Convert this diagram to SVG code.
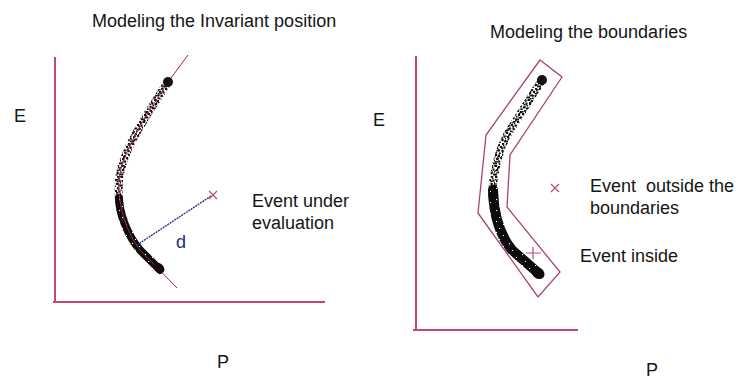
<svg xmlns="http://www.w3.org/2000/svg" width="740" height="380" viewBox="0 0 740 380">
<defs>
<style>
text{font-family:"Liberation Sans",Arial,sans-serif;fill:#151515;font-size:18px;white-space:pre}
.ax{stroke:#c8466a;stroke-width:2;fill:none}
.rl{stroke:#a02840;stroke-width:1;fill:none}
.mk{stroke:#c04a78;stroke-width:1.2;fill:none}
.sp{fill:none;stroke:url(#spk);stroke-linecap:round}
.sp2{fill:none;stroke:url(#spk2);stroke-linecap:round}
.dn{fill:none;stroke:url(#dns);stroke-linecap:round}
</style>
<pattern id="spk" width="11" height="11" patternUnits="userSpaceOnUse">
<rect x="0" y="0" width="2.2" height="2" fill="#111"/>
<rect x="3" y="1" width="2" height="2.2" fill="#111"/>
<rect x="7" y="0" width="2.2" height="1.8" fill="#111"/>
<rect x="5" y="3" width="2.2" height="2" fill="#111"/>
<rect x="1" y="4" width="2.2" height="2.2" fill="#111"/>
<rect x="8.5" y="3.5" width="2" height="2.2" fill="#111"/>
<rect x="3" y="6.5" width="2.2" height="2" fill="#111"/>
<rect x="6.5" y="7" width="2.2" height="2.2" fill="#111"/>
<rect x="0" y="8.5" width="2" height="2" fill="#111"/>
<rect x="9" y="8.5" width="2" height="1.8" fill="#111"/>
<rect x="4" y="9.5" width="1.8" height="1.5" fill="#111"/>
<rect x="2" y="2.5" width="1.4" height="1.4" fill="#111"/>
<rect x="6.5" y="5" width="1.6" height="1.4" fill="#111"/>
<rect x="10" y="6" width="1" height="1.6" fill="#111"/>
<rect x="8" y="1.8" width="1.4" height="1.4" fill="#111"/>
<rect x="1.5" y="7" width="1.4" height="1.4" fill="#111"/>
</pattern>
<pattern id="spk2" width="7" height="9" patternUnits="userSpaceOnUse" patternTransform="translate(3 2)">
<rect x="1" y="1" width="1.6" height="1.6" fill="#111"/>
<rect x="4.5" y="3" width="1.4" height="1.6" fill="#111"/>
<rect x="2" y="6" width="1.6" height="1.4" fill="#111"/>
<rect x="5.5" y="7.5" width="1.3" height="1.3" fill="#111"/>
</pattern>
<pattern id="dns" width="13" height="11" patternUnits="userSpaceOnUse">
<rect width="13" height="11" fill="#0c0c0c"/>
<rect x="2" y="1" width="1.1" height="1.1" fill="#fff"/>
<rect x="9" y="4" width="1" height="1" fill="#fff"/>
<rect x="5" y="8" width="1.1" height="1" fill="#fff"/>
</pattern>
</defs>
<rect width="740" height="380" fill="#fff"/>

<g id="left-panel">
<text x="92" y="27" font-size="17.8">Modeling the Invariant position</text>
<line class="ax" x1="55" y1="57" x2="55" y2="302"/>
<line class="ax" x1="53" y1="302" x2="325" y2="302"/>
<text x="14" y="122">E</text>
<text x="217" y="368">P</text>
<g id="invariant-curve">
<path class="sp" stroke-width="8" d="M168,82 C150,110 122,150 119,180 C118,195 119,205 121,212"/>
<path class="sp2" stroke-width="7" d="M168,82 C150,110 122,150 119,180 C118,195 119,205 121,212"/>
<path class="dn" stroke-width="8" d="M119,198 C119,212 127,235 140,250 L160,270"/>
<path class="rl" d="M188,55 L168,82 C150,110 122,150 119,180 C117,205 128,235 140,250 L177,288"/>
<circle cx="168" cy="82" r="5" fill="#111"/>
<ellipse cx="159" cy="268" rx="6" ry="4.5" transform="rotate(40 159 268)" fill="#1a0a0e"/>
</g>
<g id="event-under-evaluation">
<line x1="137" y1="245" x2="211" y2="196" stroke="#1c2c80" stroke-width="1.3" stroke-dasharray="2 0.8"/>
<path class="mk" d="M209,191 L217,199 M217,191 L209,199"/>
<text x="176" y="248" style="fill:#1c2c80">d</text>
<text x="252" y="207">Event under</text>
<text x="252" y="229">evaluation</text>
</g>
</g>

<g id="right-panel">
<text x="490" y="38" font-size="17.8">Modeling the boundaries</text>
<line class="ax" x1="416" y1="56" x2="416" y2="330"/>
<line class="ax" x1="413" y1="330" x2="578" y2="330"/>
<text x="373" y="126">E</text>
<text x="646" y="376">P</text>
<polygon id="boundary" points="540,60 562,77 510,155 507,207 560,272 538,297 478,213 486,135" fill="none" stroke="#a8407a" stroke-width="1.3"/>
<g id="boundary-curve">
<path class="sp" stroke-width="8" d="M542,80 L507,135 Q494,160 492,195"/>
<path class="sp2" stroke-width="7" d="M542,80 L507,135 Q494,160 492,195"/>
<path class="dn" stroke-width="10" d="M493,190 Q494,228 512,250 L536,271"/>
<circle cx="542" cy="80" r="5" fill="#111"/>
<ellipse cx="538" cy="273" rx="7" ry="5.5" transform="rotate(35 538 273)" fill="#0c0c0c"/>
</g>
<g id="event-outside">
<path class="mk" d="M551,184 L559,192 M559,184 L551,192"/>
<text x="590" y="192" xml:space="preserve">Event  outside the</text>
<text x="590" y="214">boundaries</text>
</g>
<g id="event-inside">
<path class="mk" d="M526,253 L541,253 M533,247 L533,259"/>
<text x="580" y="262">Event inside</text>
</g>
</g>
</svg>
